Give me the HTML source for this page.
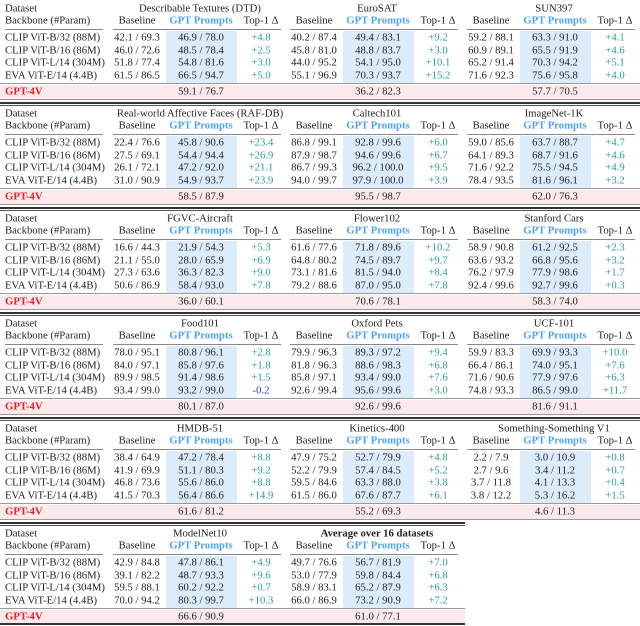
<!DOCTYPE html>
<html><head><meta charset="utf-8">
<style>
body{margin:0;background:#fff;}
#root{position:relative;width:640px;height:626px;overflow:hidden;font-family:"Liberation Serif",serif;font-size:10.7px;color:#222;}
.t{position:absolute;white-space:nowrap;transform:translate(-50%,-50%);line-height:1;}
.l{position:absolute;white-space:nowrap;transform:translateY(-50%);line-height:1;}
.r{position:absolute;}
</style></head><body>
<div id="root"></div>
<script>
const backbones=["CLIP ViT-B/32 (88M)","CLIP ViT-B/16 (86M)","CLIP ViT-L/14 (304M)","EVA ViT-E/14 (4.4B)"];
const datasetNames=[
["Describable Textures (DTD)","EuroSAT","SUN397"],
["Real-world Affective Faces (RAF-DB)","Caltech101","ImageNet-1K"],
["FGVC-Aircraft","Flower102","Stanford Cars"],
["Food101","Oxford Pets","UCF-101"],
["HMDB-51","Kinetics-400","Something-Something V1"],
["ModelNet10","Average over 16 datasets"]];
const baselineVals=[
[["42.1 / 69.3","46.0 / 72.6","51.8 / 77.4","61.5 / 86.5"],["40.2 / 87.4","45.8 / 81.0","44.0 / 95.2","55.1 / 96.9"],["59.2 / 88.1","60.9 / 89.1","65.2 / 91.4","71.6 / 92.3"]],
[["22.4 / 76.6","27.5 / 69.1","26.1 / 72.1","31.0 / 90.9"],["86.8 / 99.1","87.9 / 98.7","86.7 / 99.3","94.0 / 99.7"],["59.0 / 85.6","64.1 / 89.3","71.6 / 92.2","78.4 / 93.5"]],
[["16.6 / 44.3","21.1 / 55.0","27.3 / 63.6","50.6 / 86.9"],["61.6 / 77.6","64.8 / 80.2","73.1 / 81.6","79.2 / 88.6"],["58.9 / 90.8","63.6 / 93.2","76.2 / 97.9","92.4 / 99.6"]],
[["78.0 / 95.1","84.0 / 97.1","89.9 / 98.5","93.4 / 99.0"],["79.9 / 96.3","81.8 / 96.3","85.8 / 97.1","92.6 / 99.4"],["59.9 / 83.3","66.4 / 86.1","71.6 / 90.6","74.8 / 93.3"]],
[["38.4 / 64.9","41.9 / 69.9","46.8 / 73.6","41.5 / 70.3"],["47.9 / 75.2","52.2 / 79.9","59.5 / 84.6","61.5 / 86.0"],["2.2 / 7.9","2.7 / 9.6","3.7 / 11.8","3.8 / 12.2"]],
[["42.9 / 84.8","39.1 / 82.2","59.5 / 88.1","70.0 / 94.2"],["49.7 / 76.6","53.0 / 77.9","58.9 / 83.1","66.0 / 86.9"]]];
const gptVals=[
[["46.9 / 78.0","48.5 / 78.4","54.8 / 81.6","66.5 / 94.7"],["49.4 / 83.1","48.8 / 83.7","54.1 / 95.0","70.3 / 93.7"],["63.3 / 91.0","65.5 / 91.9","70.3 / 94.2","75.6 / 95.8"]],
[["45.8 / 90.6","54.4 / 94.4","47.2 / 92.0","54.9 / 93.7"],["92.8 / 99.6","94.6 / 99.6","96.2 / 100.0","97.9 / 100.0"],["63.7 / 88.7","68.7 / 91.6","75.5 / 94.5","81.6 / 96.1"]],
[["21.9 / 54.3","28.0 / 65.9","36.3 / 82.3","58.4 / 93.0"],["71.8 / 89.6","74.5 / 89.7","81.5 / 94.0","87.0 / 95.0"],["61.2 / 92.5","66.8 / 95.6","77.9 / 98.6","92.7 / 99.6"]],
[["80.8 / 96.1","85.8 / 97.6","91.4 / 98.6","93.2 / 99.0"],["89.3 / 97.2","88.6 / 98.3","93.4 / 99.0","95.6 / 99.6"],["69.9 / 93.3","74.0 / 95.1","77.9 / 97.6","86.5 / 99.0"]],
[["47.2 / 78.4","51.1 / 80.3","55.6 / 86.0","56.4 / 86.6"],["52.7 / 79.9","57.4 / 84.5","63.3 / 88.0","67.6 / 87.7"],["3.0 / 10.9","3.4 / 11.2","4.1 / 13.3","5.3 / 16.2"]],
[["47.8 / 86.1","48.7 / 93.3","60.2 / 92.2","80.3 / 99.7"],["56.7 / 81.9","59.8 / 84.4","65.2 / 87.9","73.2 / 90.9"]]];
const deltaVals=[
[["+4.8","+2.5","+3.0","+5.0"],["+9.2","+3.0","+10.1","+15.2"],["+4.1","+4.6","+5.1","+4.0"]],
[["+23.4","+26.9","+21.1","+23.9"],["+6.0","+6.7","+9.5","+3.9"],["+4.7","+4.6","+4.9","+3.2"]],
[["+5.3","+6.9","+9.0","+7.8"],["+10.2","+9.7","+8.4","+7.8"],["+2.3","+3.2","+1.7","+0.3"]],
[["+2.8","+1.8","+1.5","-0.2"],["+9.4","+6.8","+7.6","+3.0"],["+10.0","+7.6","+6.3","+11.7"]],
[["+8.8","+9.2","+8.8","+14.9"],["+4.8","+5.2","+3.8","+6.1"],["+0.8","+0.7","+0.4","+1.5"]],
[["+4.9","+9.6","+0.7","+10.3"],["+7.0","+6.8","+6.3","+7.2"]]];
const gpt4vVals=[["59.1 / 76.7","36.2 / 82.3","57.7 / 70.5"],["58.5 / 87.9","95.5 / 98.7","62.0 / 76.3"],["36.0 / 60.1","70.6 / 78.1","58.3 / 74.0"],["80.1 / 87.0","92.6 / 99.6","81.6 / 91.1"],["61.6 / 81.2","55.2 / 69.3","4.6 / 11.3"],["66.6 / 90.9","61.0 / 77.1"]];

const root=document.getElementById('root');
function txt(x,y,s,cls,style){const d=document.createElement('div');d.className=cls;d.style.left=x+'px';d.style.top=y+'px';d.textContent=s;if(style)d.style.cssText+=style;root.appendChild(d);return d;}
function rect(x,y,w,h,c){const d=document.createElement('div');d.className='r';d.style.cssText+=`left:${x}px;top:${y}px;width:${w}px;height:${h}px;background:${c};`;root.appendChild(d);return d;}
const gX=[0,177,354];
for(let b=0;b<6;b++){
  const T=105*b; const ng=datasetNames[b].length; const W=b===5?465:640;
  let e=rect(0,T-3,W,2,'#333');
  
  
  if(b>0){e=rect(0,T,W,1,'#555');}
  e=rect(0,T+85,W,14,'#fbe9ec');
  
  
  e=rect(0,T+83,W,1,'#999');
  
  
  e=rect(0,T+99,W,1,'#999');
  
  
  e=txt(5,T+9,'Dataset','l');
  
  
  e=txt(5,T+21,'Backbone (#Param)','l');
  
  
  e=rect(5,T+29,98,1,'#888');
  
  
  for(let r=0;r<4;r++){
    e=txt(5,T+38+r*12.6,backbones[r],'l');
    
    
  }
  e=txt(5,T+92,'GPT-4V','l','color:#e0242c;font-weight:bold;');
  
  
  for(let g=0;g<ng;g++){
    const o=gX[g];
    e=rect(166+o,T+31,71,52,'#dcecfa');
    
    
    e=rect(113+o,T+29,168,1,'#888');
    
    
    e=txt(200+o,T+9,datasetNames[b][g],'t',(b===5&&g===1)?'font-weight:bold;':'');
    
    
    e=txt(137+o,T+21,'Baseline','t');
    
    
    e=txt(201+o,T+21,'GPT Prompts','t','color:#4da3ee;font-weight:bold;');
    
    
    e=txt(261+o,T+21,'Top-1 Δ','t');
    
    
    for(let r=0;r<4;r++){
      const y=T+38+r*12.6;
      e=txt(137+o,y,baselineVals[b][g][r],'t');
      
      
      e=txt(201+o,y,gptVals[b][g][r],'t');
      
      
      const dv=deltaVals[b][g][r];
      e=txt(261+o,y,dv,'t','color:'+(dv[0]==='-'?'#2233dd':'#2a9d90')+';');
      
      
    }
    e=txt(201+o,T+92,gpt4vVals[b][g],'t');
    
    
  }
}
let e=rect(0,623,465,2,'#333');


</script>
</body></html>
